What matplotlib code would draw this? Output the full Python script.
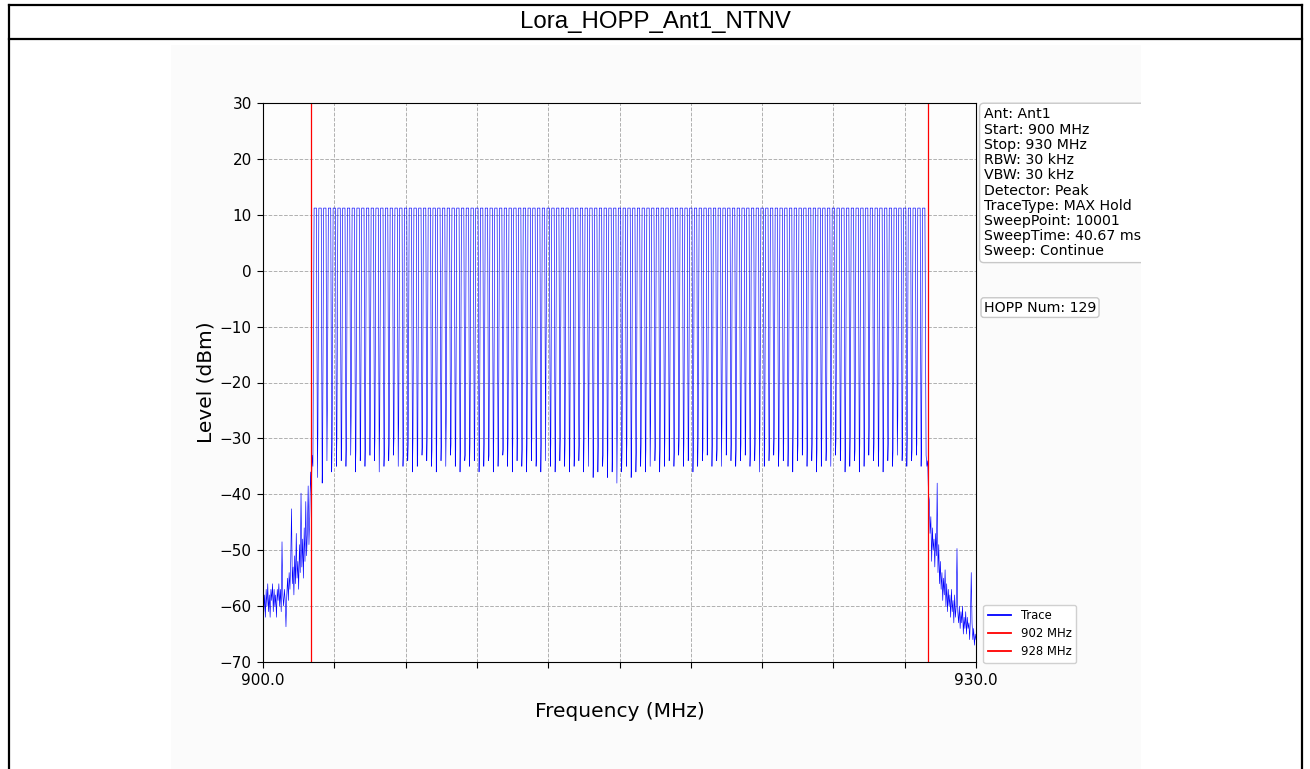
import numpy as np
import matplotlib.pyplot as plt
from matplotlib.patches import Rectangle
from matplotlib.lines import Line2D

# sweep settings
start_mhz = 900.0
stop_mhz = 930.0
band_low = 902.0
band_high = 928.0

# hop channels (max hold)
first_hop = 902.2
hop_step = 0.2
hop_num = 129
hop_peak = 11.2

# lowest level in each gap between two neighbouring hops (dBm)
gap_low = [-37, -38, -34, -36, -35, -34, -35, -33, -36, -34, -35, -33, -34, -36, -35, -34,
           -33, -35, -35, -34, -36, -35, -33, -34, -35, -36, -34, -35, -33, -35, -36, -34,
           -35, -34, -36, -35, -34, -36, -35, -33, -35, -36, -34, -35, -36, -34, -35, -36,
           -34, -35, -36, -34, -35, -36, -35, -34, -36, -35, -37, -36, -35, -37, -36, -38,
           -36, -35, -37, -36, -35, -36, -35, -34, -36, -35, -34, -35, -33, -35, -34, -36,
           -35, -34, -33, -35, -34, -35, -33, -34, -35, -34, -33, -35, -34, -36, -35, -34,
           -33, -35, -34, -35, -36, -34, -33, -35, -34, -36, -35, -34, -35, -33, -34, -36,
           -35, -34, -36, -35, -33, -34, -35, -36, -34, -35, -33, -34, -35, -34, -33, -35]

# spur level in the middle of each gap (dBm)
gap_mid = [-29, -32, -24, -31, -30, -33, -31, -26, -32, -30, -31, -33, -30, -27.5, -32, -31,
           -30, -27, -32, -31, -30, -33, -31, -30, -32, -31, -30, -27, -31, -32, -30, -33,
           -31, -30, -32, -31, -33, -30, -31, -32, -30, -31, -27, -32, -31, -30, -33, -31,
           -14.2, -31, -32, -30, -31, -33, -32, -31, -30, -26, -32, -31, -33, -32, -31, -28,
           -32, -31, -33, -32, -31, -32, -27, -31, -32, -30, -31, -32, -30, -31, -32, -31,
           -30, -32, -31, -30, -32, -27, -31, -30, -32, -31, -30, -32, -31, -28, -32, -31,
           -30, -32, -31, -30, -29, -31, -32, -30, -31, -32, -30, -31, -27, -30, -32, -31,
           -30, -32, -31, -30, -28, -31, -32, -30, -31, -32, -26, -31, -30, -32, -31, -30]

# noise below the band, 900.0 -> 902.1 MHz
left_noise = [-53, -61, -58, -62, -57, -60, -56, -61, -58, -62, -57, -59, -56, -61, -57, -60,
              -58, -62, -57, -59, -56, -60, -57, -61, -48.5, -58, -60, -57, -59, -63.7, -58, -55,
              -59, -54, -57, -52, -42.6, -56, -53, -58, -51, -56, -47, -55, -52, -57, -49, -54,
              -39.8, -53, -48, -55, -46, -52, -41.3, -51, -47, -38.5, -49, -44, -36, -40, -33, -35]

# noise above the band, 927.9 -> 930.0 MHz
right_noise = [-33, -35, -34, -40, -41, -47, -44, -52, -46, -50, -48, -53, -47, -51, -38, -54,
               -49, -56, -52, -57, -54, -59, -55, -58, -53.5, -60, -56, -61, -57, -60, -58, -62,
               -57, -61, -59, -63, -58, -62, -60, -49.7, -61, -63, -60, -64, -61, -63, -60, -65,
               -62, -64, -61, -65, -62, -64, -63, -66, -62, -54, -63, -66, -64, -67, -65, -66]

info_lines = ['Ant: Ant1', 'Start: 900 MHz', 'Stop: 930 MHz', 'RBW: 30 kHz', 'VBW: 30 kHz',
              'Detector: Peak', 'TraceType: MAX Hold', 'SweepPoint: 10001',
              'SweepTime: 40.67 ms', 'Sweep: Continue']

# build the trace: left noise, hop spikes, right noise
hops = first_hop + hop_step * np.arange(hop_num)
freq = list(np.linspace(start_mhz, 902.1, len(left_noise)))
level = list(left_noise)
for k, c in enumerate(hops):
    freq += [c - 0.05, c + 0.05]
    level += [hop_peak, hop_peak]
    if k < len(gap_low):
        freq += [c + 0.09, c + 0.11]
        level += [gap_low[k], gap_mid[k]]
freq += list(np.linspace(927.9, stop_mhz, len(right_noise)))
level += right_noise

fig = plt.figure(figsize=(13.1, 7.69), dpi=100)

# plot panel background
fig.add_artist(Rectangle((171 / 1310, 0), 970 / 1310, 724 / 769, transform=fig.transFigure,
                         facecolor='#fbfbfb', edgecolor='none', zorder=-5))

ax = fig.add_axes([263 / 1310, 107 / 769, 713 / 1310, 559 / 769])
ax.set_facecolor('#fdfdfd')
ax.plot(freq, level, color='blue', linewidth=0.45)
ax.axvline(band_low, color='red', linewidth=0.9)
ax.axvline(band_high, color='red', linewidth=0.9)

ax.set_xlim(start_mhz, stop_mhz)
ax.set_ylim(-70, 30)
xt = np.arange(900, 931, 3)
ax.set_xticks(xt)
ax.set_xticklabels(['900.0'] + [''] * (len(xt) - 2) + ['930.0'])
ax.set_yticks(np.arange(-70, 31, 10))
ax.tick_params(labelsize=11, length=4.5)
ax.grid(True, linestyle='--', color='#b0b0b0', linewidth=0.7)
ax.set_xlabel('Frequency (MHz)', fontsize=14.5, labelpad=10)
ax.set_ylabel('Level (dBm)', fontsize=14.5, labelpad=3)

box = dict(boxstyle='round,pad=0.3', facecolor='white', edgecolor='#c8c8c8')
ax.text(1.011, 0.992, '\n'.join(info_lines), transform=ax.transAxes, fontsize=10.2,
        va='top', ha='left', linespacing=1.11, bbox=box)
ax.text(1.011, 0.634, 'HOPP Num: ' + str(hop_num), transform=ax.transAxes, fontsize=10.2,
        va='center', ha='left', bbox=dict(box, boxstyle='round,pad=0.2'))

handles = [Line2D([], [], color='blue', linewidth=1.3),
           Line2D([], [], color='red', linewidth=1.3),
           Line2D([], [], color='red', linewidth=1.3)]
ax.legend(handles, ['Trace', '902 MHz', '928 MHz'], loc='lower left',
          bbox_to_anchor=(1.002, -0.012), prop={'size': 8.4}, labelspacing=0.42,
          framealpha=1, edgecolor='#d0d0d0')

# cut the panel off on the right side
fig.add_artist(Rectangle((1141 / 1310, 0), 160 / 1310, 724 / 769, transform=fig.transFigure,
                         facecolor='white', edgecolor='none', zorder=5))

# report frame and header row
frame = dict(color='black', linewidth=1.6, transform=fig.transFigure, zorder=10)
fig.add_artist(Line2D([8.5 / 1310, 1301.5 / 1310], [1 - 5 / 769, 1 - 5 / 769], **frame))
fig.add_artist(Line2D([8.5 / 1310, 1301.5 / 1310], [1 - 39 / 769, 1 - 39 / 769], **frame))
fig.add_artist(Line2D([8.5 / 1310, 8.5 / 1310], [0, 1 - 5 / 769], **frame))
fig.add_artist(Line2D([1301.5 / 1310, 1301.5 / 1310], [0, 1 - 5 / 769], **frame))
fig.text(0.5, 1 - 22 / 769, 'Lora_HOPP_Ant1_NTNV', ha='center', va='center',
         fontsize=17.3, family=['Liberation Sans', 'DejaVu Sans'])

fig.savefig('out.png', dpi=100)
